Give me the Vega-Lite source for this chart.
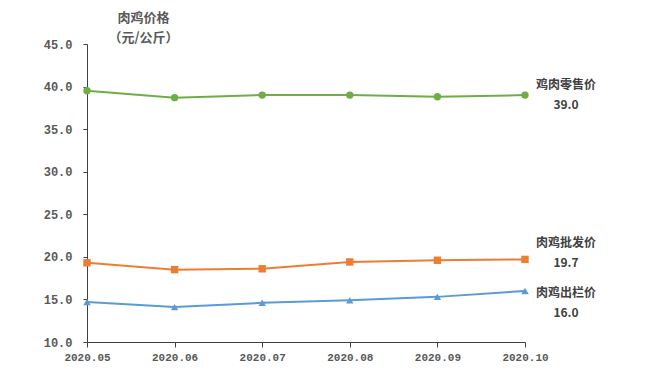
{
  "$schema": "https://vega.github.io/schema/vega-lite/v6.json",
  "width": 438,
  "height": 298,
  "autosize": "none",
  "padding": {"left": 87, "top": 44, "right": 125, "bottom": 35},
  "background": "white",
  "config": {"view": {"stroke": null}},
  "data": {
    "values": [
      {"month": "2020.05", "series": "鸡肉零售价", "value": 39.5},
      {"month": "2020.06", "series": "鸡肉零售价", "value": 38.7},
      {"month": "2020.07", "series": "鸡肉零售价", "value": 39.0},
      {"month": "2020.08", "series": "鸡肉零售价", "value": 39.0},
      {"month": "2020.09", "series": "鸡肉零售价", "value": 38.8},
      {"month": "2020.10", "series": "鸡肉零售价", "value": 39.0},
      {"month": "2020.05", "series": "肉鸡批发价", "value": 19.3},
      {"month": "2020.06", "series": "肉鸡批发价", "value": 18.5},
      {"month": "2020.07", "series": "肉鸡批发价", "value": 18.6},
      {"month": "2020.08", "series": "肉鸡批发价", "value": 19.4},
      {"month": "2020.09", "series": "肉鸡批发价", "value": 19.6},
      {"month": "2020.10", "series": "肉鸡批发价", "value": 19.7},
      {"month": "2020.05", "series": "肉鸡出栏价", "value": 14.7},
      {"month": "2020.06", "series": "肉鸡出栏价", "value": 14.1},
      {"month": "2020.07", "series": "肉鸡出栏价", "value": 14.6},
      {"month": "2020.08", "series": "肉鸡出栏价", "value": 14.9},
      {"month": "2020.09", "series": "肉鸡出栏价", "value": 15.3},
      {"month": "2020.10", "series": "肉鸡出栏价", "value": 16.0}
    ]
  },
  "encoding": {
    "x": {
      "field": "month", "type": "ordinal",
      "scale": {"type": "point", "padding": 0},
      "axis": {
        "title": null, "labelAngle": 0, "domainColor": "#404040", "tickColor": "#404040",
        "tickSize": 5, "labelPadding": 4, "labelFont": "Liberation Mono", "labelFontSize": 11,
        "labelFontWeight": "bold", "labelColor": "#595959", "grid": false
      }
    },
    "y": {
      "field": "value", "type": "quantitative",
      "scale": {"domain": [10, 45], "nice": false, "zero": false},
      "axis": {
        "values": [10, 15, 20, 25, 30, 35, 40, 45], "format": ".1f", "grid": false,
        "domainColor": "#404040", "tickColor": "#404040", "tickSize": 4, "labelPadding": 11,
        "labelFont": "Liberation Mono", "labelFontSize": 12, "labelFontWeight": "bold", "labelColor": "#595959",
        "title": ["肉鸡价格", "（元/公斤）"], "titleAngle": 0, "titleX": 56, "titleY": -33,
        "titleBaseline": "top", "titleAlign": "center", "titleFont": "Noto Sans CJK SC",
        "titleFontSize": 13, "titleFontWeight": "bold", "titleColor": "#595959", "titleLineHeight": 20
      }
    }
  },
  "layer": [
    {
      "mark": {"type": "line", "strokeWidth": 2},
      "encoding": {
        "color": {"field": "series", "type": "nominal",
          "scale": {"domain": ["鸡肉零售价", "肉鸡批发价", "肉鸡出栏价"], "range": ["#70AD47", "#ED7D31", "#5B9BD5"]},
          "legend": null}
      }
    },
    {
      "mark": {"type": "point", "filled": true, "opacity": 1, "size": 55},
      "encoding": {
        "color": {"field": "series", "type": "nominal",
          "scale": {"domain": ["鸡肉零售价", "肉鸡批发价", "肉鸡出栏价"], "range": ["#70AD47", "#ED7D31", "#5B9BD5"]},
          "legend": null},
        "shape": {"field": "series", "type": "nominal",
          "scale": {"domain": ["鸡肉零售价", "肉鸡批发价", "肉鸡出栏价"], "range": ["circle", "square", "triangle-up"]},
          "legend": null}
      }
    },
    {
      "transform": [
        {"filter": "datum.month == '2020.10' && datum.series == '鸡肉零售价'"},
        {"calculate": "datum.series + '\\n' + format(datum.value, '.1f')", "as": "label"}
      ],
      "mark": {"type": "text", "dx": 41, "dy": -10, "lineBreak": "\n", "lineHeight": 20, "align": "center", "baseline": "middle",
        "font": "Noto Sans CJK SC", "fontSize": 12, "fontWeight": "bold", "color": "#404040"},
      "encoding": {"text": {"field": "label"}}
    },
    {
      "transform": [
        {"filter": "datum.month == '2020.10' && datum.series == '肉鸡批发价'"},
        {"calculate": "datum.series + '\\n' + format(datum.value, '.1f')", "as": "label"}
      ],
      "mark": {"type": "text", "dx": 41, "dy": -16, "lineBreak": "\n", "lineHeight": 20, "align": "center", "baseline": "middle",
        "font": "Noto Sans CJK SC", "fontSize": 12, "fontWeight": "bold", "color": "#404040"},
      "encoding": {"text": {"field": "label"}}
    },
    {
      "transform": [
        {"filter": "datum.month == '2020.10' && datum.series == '肉鸡出栏价'"},
        {"calculate": "datum.series + '\\n' + format(datum.value, '.1f')", "as": "label"}
      ],
      "mark": {"type": "text", "dx": 41, "dy": 2, "lineBreak": "\n", "lineHeight": 20, "align": "center", "baseline": "middle",
        "font": "Noto Sans CJK SC", "fontSize": 12, "fontWeight": "bold", "color": "#404040"},
      "encoding": {"text": {"field": "label"}}
    }
  ]
}
